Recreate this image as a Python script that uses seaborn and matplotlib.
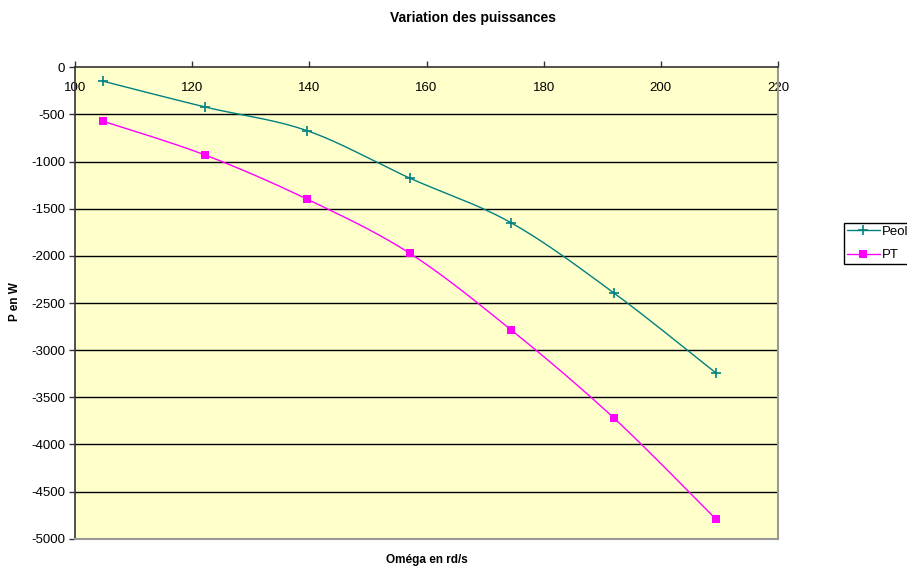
import numpy as np
import pandas as pd
import matplotlib
matplotlib.use("Agg")
import matplotlib.pyplot as plt
from matplotlib.lines import Line2D
import seaborn as sns

# Angular speed (rd/s) and the two power curves (W)
omega = [104.7, 122.2, 139.6, 157.1, 174.5, 192.0, 209.4]
peol = [-146, -421, -672, -1174, -1651, -2394, -3242]
pt = [-570, -930, -1398, -1971, -2788, -3721, -4792]

x_ticks = [100, 120, 140, 160, 180, 200, 220]
y_ticks = [0, -500, -1000, -1500, -2000, -2500, -3000, -3500, -4000, -4500, -5000]

TEAL = "#008080"
MAGENTA = "#FF00FF"


def smooth(xs, ys, n=30):
    """Catmull-Rom spline through the points (smoothed line style)."""
    p = np.column_stack([xs, ys]).astype(float)
    p = np.vstack([p[0], p, p[-1]])
    out = []
    t = np.linspace(0, 1, n, endpoint=False)
    for i in range(1, len(p) - 2):
        p0, p1, p2, p3 = p[i - 1], p[i], p[i + 1], p[i + 2]
        tt = t[:, None]
        seg = 0.5 * ((2 * p1) + (-p0 + p2) * tt
                     + (2 * p0 - 5 * p1 + 4 * p2 - p3) * tt ** 2
                     + (-p0 + 3 * p1 - 3 * p2 + p3) * tt ** 3)
        out.append(seg)
    out.append(p[-2][None, :])
    out = np.vstack(out)
    return out[:, 0], out[:, 1]


sns.set_theme(style="white")
plt.rcParams["font.family"] = ["Liberation Sans", "DejaVu Sans"]
plt.rcParams["text.color"] = "black"

fig = plt.figure(figsize=(9.07, 5.68), dpi=100)
ax = fig.add_axes([75 / 907, 1 - 538.7 / 568, 703 / 907, 471.4 / 568])
ax.set_facecolor("#FFFFCC")

for ys, color in [(peol, TEAL), (pt, MAGENTA)]:
    sx, sy = smooth(omega, ys)
    curve = pd.DataFrame({"x": sx, "y": sy, "i": np.arange(len(sx))})
    sns.lineplot(data=curve, x="x", y="y", ax=ax, color=color, lw=1.0,
                 sort=False, estimator=None, zorder=3)

pts = pd.DataFrame({"omega": omega, "Peol": peol, "PT": pt})
sns.scatterplot(data=pts, x="omega", y="Peol", ax=ax, marker="+", s=45,
                color=TEAL, linewidth=1.2, zorder=4)
sns.scatterplot(data=pts, x="omega", y="PT", ax=ax, marker="s", s=38,
                color=MAGENTA, edgecolor=MAGENTA, linewidth=0, zorder=4)

ax.set_xlim(100, 220)
ax.set_ylim(-5000, 0)
ax.set_xticks(x_ticks)
ax.set_yticks(y_ticks)
ax.set_yticklabels([str(v) for v in y_ticks])
ax.set_xticklabels([str(v) for v in x_ticks])

for y in y_ticks[1:-1]:
    ax.axhline(y, color="black", lw=1.0, zorder=1)

ax.xaxis.set_ticks_position("top")
ax.tick_params(axis="x", which="both", top=True, bottom=False, labeltop=True,
               labelbottom=False, direction="out", length=4, width=1,
               color="#333333", pad=-23, labelsize=9.5, labelcolor="black")
ax.tick_params(axis="y", which="both", left=True, direction="out", length=4,
               width=1, color="#333333", pad=3, labelsize=9.5, labelcolor="black")

for side in ["left", "top"]:
    ax.spines[side].set_color("#333333")
    ax.spines[side].set_linewidth(1.2)
for side in ["right", "bottom"]:
    ax.spines[side].set_color("#999999")
    ax.spines[side].set_linewidth(1.5)

ax.set_xlabel("")
ax.set_ylabel("")
fig.text(427 / 907, 1 - 560 / 568, "Oméga en rd/s", ha="center", va="center",
         fontsize=8.5, fontweight="bold")
fig.text(15 / 907, 1 - 302 / 568, "P en W", ha="center", va="center",
         rotation=90, fontsize=8.5, fontweight="bold")
fig.text(473 / 907, 1 - 18 / 568, "Variation des puissances", ha="center",
         va="center", fontsize=10, fontweight="bold")

handles = [
    Line2D([], [], color=TEAL, lw=1.0, marker="+", markersize=7, mew=1.2),
    Line2D([], [], color=MAGENTA, lw=1.0, marker="s", markersize=6, mew=0),
]
leg = fig.legend(handles, ["Peol", "PT"], loc="upper left",
                 bbox_to_anchor=(844 / 907, 1 - 223 / 568), frameon=True,
                 fancybox=False, framealpha=1, edgecolor="black",
                 fontsize=9.5, handlelength=2.5, handletextpad=0.15,
                 borderpad=0.2, labelspacing=0.85, borderaxespad=0)
leg.get_frame().set_linewidth(1.0)

fig.savefig("out.png", dpi=100, facecolor="white")
